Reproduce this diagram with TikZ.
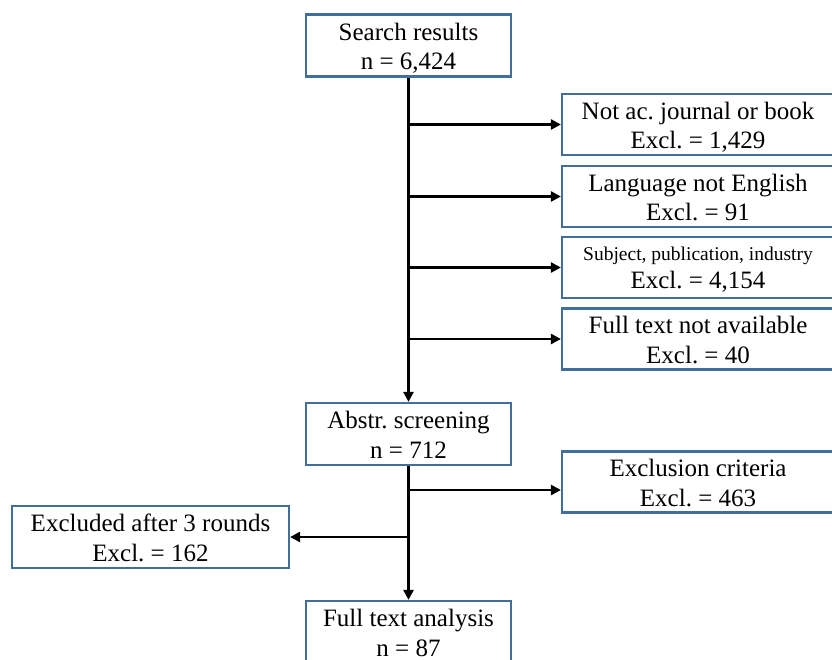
\documentclass[tikz,border=0pt]{standalone}
\usepackage{fontspec}
\setmainfont{Liberation Serif}
\frenchspacing
\usetikzlibrary{arrows.meta,calc}
\definecolor{boxblue}{RGB}{65,110,155}
\tikzset{
  box/.style={draw=boxblue, line width=2.2pt, fill=white, rectangle, align=center,
    inner sep=0pt, font=\fontsize{25}{29.5}\selectfont,
    text height=52pt, text depth=4pt},
  midbox/.style={box, minimum width=205pt, minimum height=62pt},
  sidebox/.style={box, minimum width=272pt, minimum height=61pt},
  conn/.style={line width=2.6pt, draw=black},
  arr/.style={conn, -{Triangle[length=10pt,width=10pt]}}
}
\begin{document}
\begin{tikzpicture}[x=1pt,y=-1pt]
\useasboundingbox (0,0) rectangle (832,659);
\node[midbox] (search) at (408.5,45.5) {Search results\\n = 6,424};
\node[sidebox] (notac) at (698,124.5) {Not ac. journal or book\\Excl. = 1,429};
\node[sidebox] (lang) at (698,196.5) {Language not English\\Excl. = 91};
\node[sidebox, font=\fontsize{25}{28}\selectfont, text height=45pt] (subj) at (698,267.5) {{\fontsize{19.5}{24}\selectfont Subject, publication, industry}\\Excl. = 4,154};
\node[sidebox] (ftna) at (698,339) {Full text not available\\Excl. = 40};
\node[midbox] (abstr) at (408.5,434) {Abstr. screening\\n = 712};
\node[sidebox] (excl) at (698,482) {Exclusion criteria\\Excl. = 463};
\node[box, minimum width=277pt, minimum height=62pt] (exc3) at (150.5,537) {Excluded after 3 rounds\\Excl. = 162};
\node[midbox] (fta) at (408.5,632) {Full text analysis\\n = 87};

\draw[arr] (search.south) -- (abstr.north);
\draw[arr] (search.south |- notac.west) -- (notac.west);
\draw[arr] (search.south |- lang.west) -- (lang.west);
\draw[arr] (search.south |- subj.west) -- (subj.west);
\draw[arr] (search.south |- ftna.west) -- (ftna.west);

\draw[arr] (abstr.south) -- (fta.north);
\coordinate (exclin) at ($(excl.west)+(0,8)$);
\draw[arr] (abstr.south |- exclin) -- (exclin);
\draw[arr] (abstr.south |- exc3.east) -- (exc3.east);
\end{tikzpicture}
\end{document}
